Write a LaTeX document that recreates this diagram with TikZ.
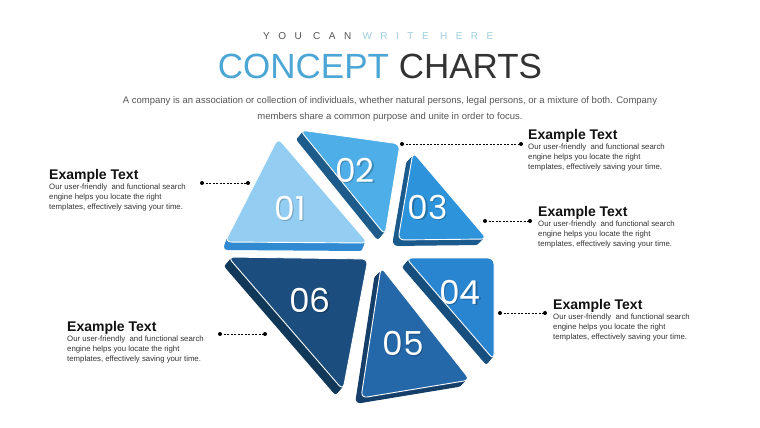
\documentclass[tikz,border=0pt]{standalone}
\usepackage{fontspec}
\setmainfont{Liberation Sans}
\newfontfamily\numfont{Poppins}
\usetikzlibrary{calc}
\definecolor{hdrgray}{HTML}{555555}
\definecolor{hdrlight}{HTML}{9FCFDC}
\definecolor{conceptblue}{HTML}{4BA6D6}
\definecolor{chartsdark}{HTML}{333333}
\definecolor{bodygray}{HTML}{333333}
\definecolor{titleblack}{HTML}{111111}
\definecolor{faceA}{HTML}{93CDF2}\definecolor{sideA}{HTML}{2F8AD2}
\definecolor{faceB}{HTML}{4DAEE8}\definecolor{sideB}{HTML}{1D5B8A}
\definecolor{faceC}{HTML}{2D93DB}\definecolor{sideC}{HTML}{1B5A8C}
\definecolor{faceD}{HTML}{2A85D0}\definecolor{sideD}{HTML}{164E7E}
\definecolor{faceE}{HTML}{2468AA}\definecolor{sideE}{HTML}{153F69}
\definecolor{faceF}{HTML}{1B4E7F}\definecolor{sideF}{HTML}{113759}
\tikzset{
  conn/.style={draw=black, line width=0.8pt, dash pattern=on 2pt off 1.5pt},
  numlbl/.style={font=\numfont\fontsize{33}{33}\selectfont, text=white, inner sep=0pt},
  numshadow/.style={font=\numfont\fontsize{33}{33}\selectfont, text=black, opacity=0.22, inner sep=0pt},
  exTitle/.style={font=\bfseries\fontsize{14}{16}\selectfont, text=titleblack, inner sep=0pt, anchor=base west},
  exBody/.style={font=\fontsize{7.8}{9}\selectfont, text=bodygray, inner sep=0pt, anchor=base west},
}
\newcommand\prismshape[5]{% #1 path, #2 dx, #3 dy, #4 side, #5 face
  \foreach \k in {1,...,10}{%
    \fill[#4, shift={({\k*(#2)/10},{\k*(#3)/10})}, rounded corners=6pt] #1 -- cycle;
  }
  \path[fill=#5, draw=white, line width=0.9pt, rounded corners=6pt] #1 -- cycle;
}
\newcommand\infoblock[3]{% #1 name, #2 x, #3 title baseline
  \node[exTitle] (#1t) at (#2,#3) {Example Text};
  \node[exBody] (#1a) at (#2,#3+10) {Our user-friendly\ \ and functional search};
  \node[exBody] (#1b) at (#2,#3+20) {engine helps you locate the right};
  \node[exBody] (#1c) at (#2,#3+30) {templates, effectively saving your time.};
}
\begin{document}
\begin{tikzpicture}[x=1pt,y=-1pt]
\useasboundingbox (0,0) rectangle (760,428);
\fill[white] (0,0) rectangle (760,428);

% header
\node[anchor=west, inner sep=0pt, font=\fontsize{10}{11}\selectfont\addfontfeature{LetterSpace=85}] (hdr) at (263,36)
  {\textcolor{hdrgray}{YOU CAN} \textcolor{hdrlight}{WRITE HERE}};
\node[anchor=base, inner sep=0pt, font=\fontsize{35}{36}\selectfont] (ttl) at (380,78)
  {\textcolor{conceptblue}{CONCEPT} \textcolor{chartsdark}{CHARTS}};
\node[anchor=base, inner sep=0pt, font=\fontsize{9.5}{11}\selectfont, text=hdrgray] (sub1) at (390,103)
  {A company is an association or collection of individuals, whether natural persons, legal persons, or a mixture of both. Company};
\node[anchor=base, inner sep=0pt, font=\fontsize{9.5}{11}\selectfont, text=hdrgray] (sub2) at (390,119)
  {members share a common purpose and unite in order to focus.};

% pieces
\prismshape{(278,138) -- (225,242) -- (368,243)}{-3}{8}{sideA}{faceA}
\prismshape{(300,130) -- (400,144) -- (385,235)}{-6}{7}{sideB}{faceB}
\prismshape{(413,152) -- (398,240) -- (487,239)}{-6}{6}{sideC}{faceC}
\prismshape{(228,257) -- (368,259) -- (343,390)}{-6}{7}{sideF}{faceF}
\prismshape{(381,267) -- (361,398) -- (470,380)}{-6}{6}{sideE}{faceE}
\prismshape{(406,258) -- (494,258) -- (494,360)}{-6}{7}{sideD}{faceD}

% numbers
\foreach \nm/\px/\py/\tx in {n1/290/208/01, n2/355/170/02, n3/428/207/03, n6/310/300/06, n5/403/343/05, n4/460/292/04}{
  \node[numshadow] at (\px+1.2,\py+1.2) {\tx};
  \node[numlbl] (\nm) at (\px,\py) {\tx};
}

% connectors
\coordinate (c1a) at (202,183); \coordinate (c1b) at (248,183);
\coordinate (c2a) at (402,144); \coordinate (c2b) at (521,144);
\coordinate (c3a) at (485,221); \coordinate (c3b) at (530,221);
\coordinate (c4a) at (500,313); \coordinate (c4b) at (545,313);
\coordinate (c6a) at (220,334); \coordinate (c6b) at (265,334);
\foreach \c in {c1,c2,c3,c4,c6}{
  \draw[conn] (\c a) -- (\c b);
  \fill[black] (\c a) circle (2pt);
  \fill[black] (\c b) circle (2pt);
}

% text blocks
\infoblock{t1}{49}{179}
\infoblock{t2}{528}{139}
\infoblock{t3}{538}{216}
\infoblock{t4}{553}{309}
\infoblock{t6}{67}{331}
\end{tikzpicture}
\end{document}
